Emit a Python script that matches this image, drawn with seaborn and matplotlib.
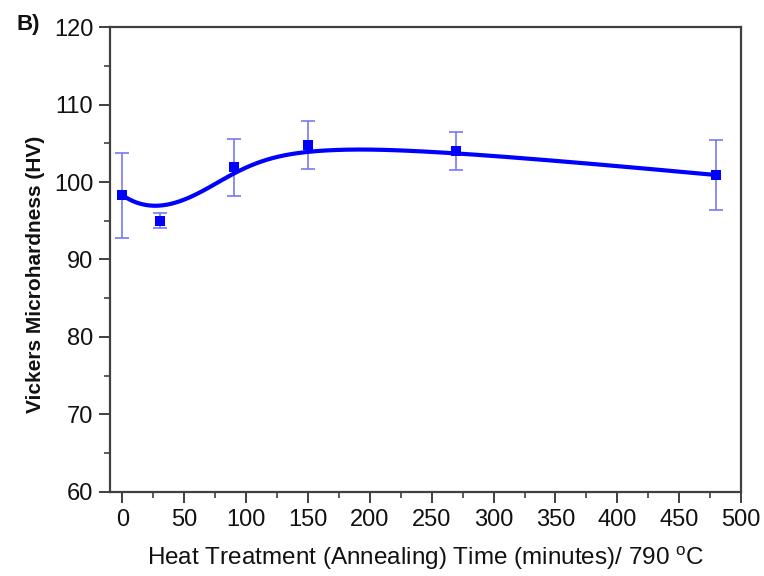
import numpy as np
import pandas as pd
import matplotlib
matplotlib.use("Agg")
import matplotlib.pyplot as plt
from matplotlib.ticker import MultipleLocator
import seaborn as sns

# Data
time_min = [0, 30, 90, 150, 270, 480]
hardness = [98.3, 95.0, 101.9, 104.8, 104.0, 100.9]
hardness_err = [5.5, 1.0, 3.7, 3.1, 2.4, 4.5]


def bspline(xs, ys, n=400, k=3):
    """Clamped B-spline using the data points as control points (Origin-style)."""
    P = np.column_stack([xs, ys]).astype(float)
    m = len(P)
    inner = np.arange(1, m - k)
    knots = np.concatenate([np.zeros(k + 1), inner, np.full(k + 1, m - k)]).astype(float)
    ts = np.linspace(0, m - k, n)
    out = []
    for t in ts:
        if t >= knots[-1]:
            out.append(P[-1])
            continue
        j = np.searchsorted(knots, t, side="right") - 1
        d = [P[j - k + i].copy() for i in range(k + 1)]
        for r in range(1, k + 1):
            for i in range(k, r - 1, -1):
                idx = j - k + i
                a = (t - knots[idx]) / (knots[idx + k + 1 - r] - knots[idx])
                d[i] = (1 - a) * d[i - 1] + a * d[i]
        out.append(d[k])
    return np.array(out)


sns.set_style("ticks")
plt.rcParams['font.family'] = ['Liberation Sans', 'DejaVu Sans']

fig = plt.figure(figsize=(7.64, 5.76), dpi=100)
ax = fig.add_axes([0.144, 0.146, 0.826, 0.807])

curve = bspline(time_min, hardness)
curve_df = pd.DataFrame({"x": curve[:, 0], "y": curve[:, 1]})
sns.lineplot(data=curve_df, x="x", y="y", sort=False, color="#0000ff",
             linewidth=3, ax=ax, zorder=3)

ax.errorbar(time_min, hardness, yerr=hardness_err, fmt="none",
            ecolor="#7878f8", elinewidth=1.2, capsize=5, capthick=1.2, zorder=2)

df = pd.DataFrame({"t": time_min, "h": hardness})
sns.scatterplot(data=df, x="t", y="h", marker="s", s=52, color="#0000ff",
                edgecolor="#0000ff", linewidth=0, ax=ax, zorder=4)

ax.set_xlim(-10, 500)
ax.set_ylim(60, 120)
ax.xaxis.set_major_locator(MultipleLocator(50))
ax.xaxis.set_minor_locator(MultipleLocator(25))
ax.yaxis.set_major_locator(MultipleLocator(10))
ax.yaxis.set_minor_locator(MultipleLocator(5))

for s in ax.spines.values():
    s.set_visible(True)
    s.set_color("#404040")
    s.set_linewidth(1.6)

ax.tick_params(axis="both", which="major", direction="out", length=8, width=1.4,
               color="#404040", labelsize=17, labelcolor="#111111", pad=4)
ax.tick_params(axis="both", which="minor", direction="out", length=4.5, width=1.2,
               color="#404040")
ax.tick_params(top=False, right=False, which="both")

ax.set_xlabel("Heat Treatment (Annealing) Time (minutes)/ 790 $^{\\mathregular{o}}$C",
              fontsize=17.5, labelpad=10, color="#111111")
ax.set_ylabel("Vickers Microhardness (HV)", fontsize=15, fontweight="bold",
              color="#111111")
ax.yaxis.set_label_coords(-0.103, 0.469)

fig.text(0.022, 0.958, "B)", fontsize=16, fontweight="bold", color="#111111",
         va="center", ha="left")

fig.savefig("out.png", dpi=100)
